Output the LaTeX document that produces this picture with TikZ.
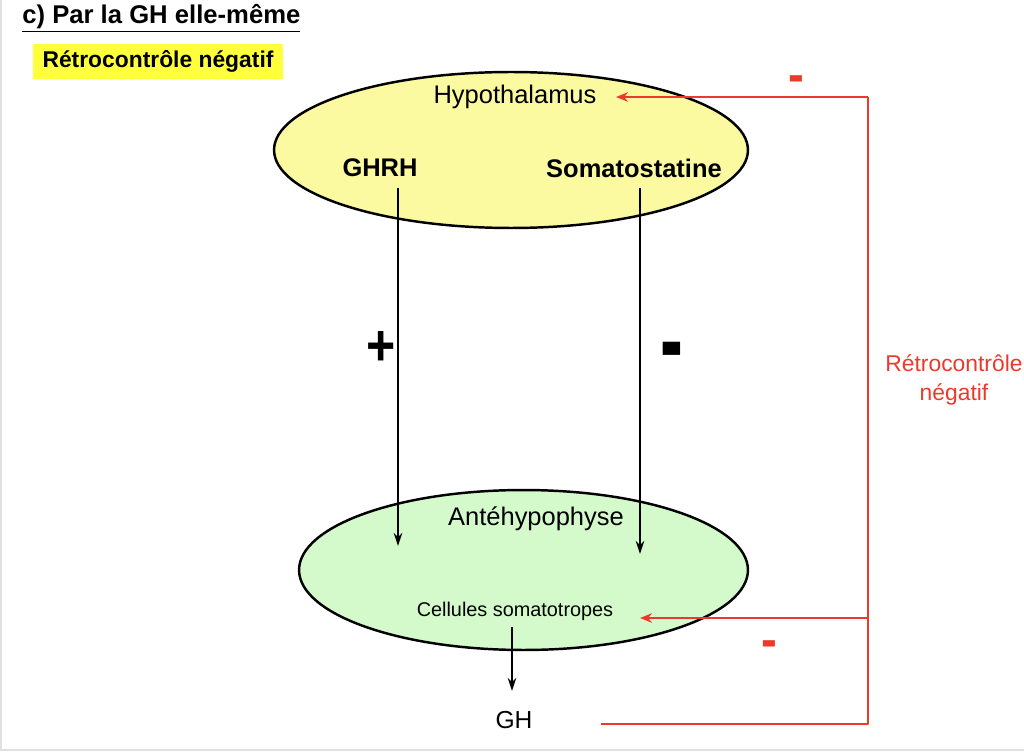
\documentclass[tikz,border=0pt]{standalone}
\usepackage{fontspec}
\setmainfont{Liberation Sans}
\usetikzlibrary{arrows.meta,shapes.geometric}
\definecolor{hypoyellow}{RGB}{252,250,160}
\definecolor{antegreen}{RGB}{212,250,204}
\definecolor{fbred}{RGB}{236,58,42}
\definecolor{markyellow}{RGB}{255,255,60}
\begin{document}
\begin{tikzpicture}[x = 0.02cm, y = -0.02cm]
    \tikzstyle{gland} = [draw, ellipse, line width = 1.4pt, inner sep = 0pt];
    \tikzstyle{label} = [inner sep = 0pt, font = \fontsize{14.5}{16}\selectfont];
    \tikzstyle{hormone} = [label, font = \fontsize{14.5}{16}\selectfont\bfseries];
    \tikzstyle{sign} = [inner sep = 0pt, font = \fontsize{30}{32}\selectfont\bfseries];
    \tikzstyle{axis} = [draw, line width = 1pt, -{Stealth[length = 2.6mm, width = 1.7mm]}];
    \tikzstyle{fb} = [draw = fbred, line width = 1.6pt, line join = round];
    \useasboundingbox (0,0) rectangle (1024,753);
    \draw[black!12, line width = 1.5pt] (1,0) -- (1,750) -- (1024,750);
    % heading:
    \node[inner sep = 0pt, anchor = west, font = \fontsize{14.6}{16}\selectfont\bfseries] (title) at (22,18) {\underline{c) Par la GH elle-même}};
    \node[fill = markyellow, minimum width = 5cm, minimum height = 0.7cm, font = \fontsize{13}{15}\selectfont\bfseries] (mark) at (158,61.5) {Rétrocontrôle négatif};
    % glands:
    \node[gland, fill = hypoyellow, minimum width = 9.48cm, minimum height = 3.12cm] (hypo) at (511,150) {};
    \node[gland, fill = antegreen, minimum width = 8.98cm, minimum height = 3.2cm] (ante) at (523.5,570) {};
    % texts:
    \node[label] (hyponame) at (515,97) {Hypothalamus};
    \node[hormone] (ghrh) at (380,168) {GHRH};
    \node[hormone] (soma) at (634,168) {Somatostatine};
    \node[label] (antename) at (536,519) {Antéhypophyse};
    \node[inner sep = 0pt, font = \fontsize{11.3}{13}\selectfont] (cells) at (515,611) {Cellules somatotropes};
    \node[label, font = \fontsize{14}{16}\selectfont] (gh) at (514,720) {GH};
    \node[sign, xscale = 0.95, yscale = 1.1] (plus) at (381,348) {+};
    \node[sign, xscale = 1.3, yscale = 2.1] (minus) at (672,360) {-};
    \node[align = center, text = fbred, font = \fontsize{13}{16}\selectfont] (fbtext) at (954,380) {Rétrocontrôle\\négatif};
    \node[sign, text = fbred, font = \fontsize{20}{22}\selectfont\bfseries, xscale = 1.35, yscale = 1.5] (fbtop) at (796,84) {-};
    \node[sign, text = fbred, font = \fontsize{20}{22}\selectfont\bfseries, xscale = 1.35, yscale = 1.5] (fbbot) at (769,649) {-};
    % points:
    \coordinate (ghrhout) at (398,188);
    \coordinate (ghrhin) at (398,546);
    \coordinate (somaout) at (640,188);
    \coordinate (somain) at (640,554);
    \coordinate (cellsout) at (512,627);
    \coordinate (ghin) at (512,691);
    \coordinate (ghout) at (601,724);
    \coordinate (rtop) at (868,97);
    \coordinate (rmid) at (868,618);
    \coordinate (hypoin) at (616,97);
    \coordinate (cellsin) at (640,618);
    % lines:
    \draw[axis] (ghrhout) -- (ghrhin);
    \draw[axis] (somaout) -- (somain);
    \draw[axis] (cellsout) -- (ghin);
    \draw[fb] (ghout) -| (rtop);
    \draw[fb, -{Stealth[length = 2.4mm, width = 1.9mm]}] (rtop) -- (hypoin);
    \draw[fb, -{Stealth[length = 2.4mm, width = 1.9mm]}] (rmid) -- (cellsin);
  \end{tikzpicture}
\end{document}
